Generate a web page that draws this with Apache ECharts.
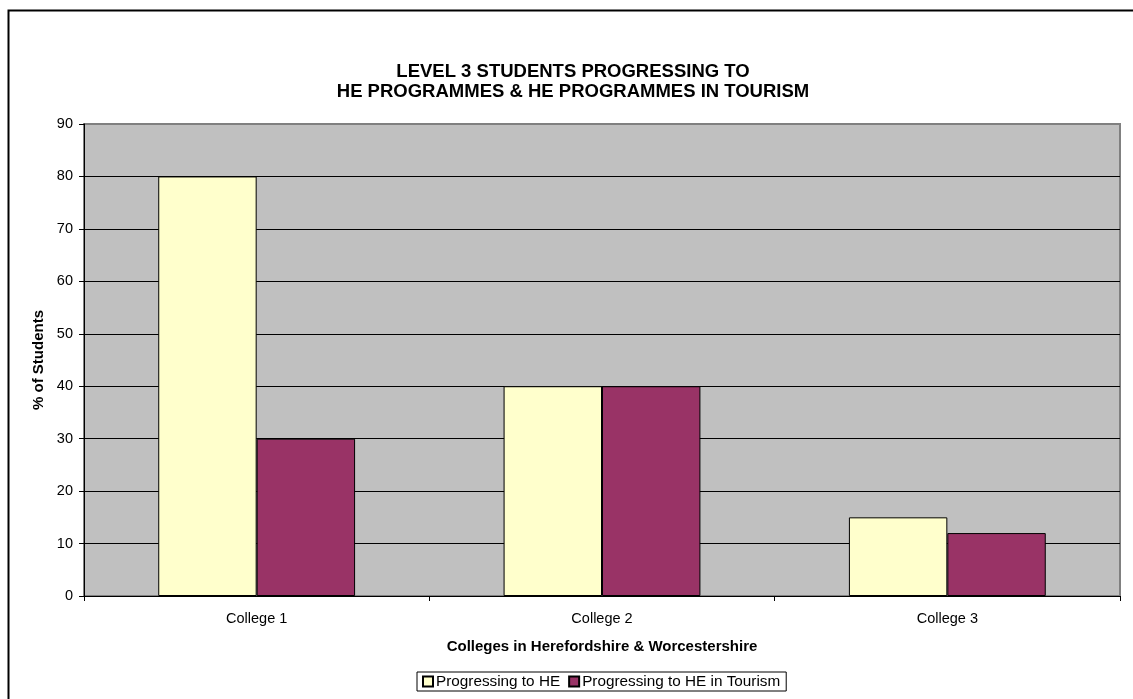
<!DOCTYPE html>
<html>
<head>
<meta charset="utf-8">
<script src="https://cdn.jsdelivr.net/npm/echarts@6/dist/echarts.min.js"></script>
<style>
html,body{margin:0;padding:0;background:#fff;}
#chart{width:1133px;height:699px;}
</style>
</head>
<body>
<div id="chart"></div>
<script>
var categories = ["College 1", "College 2", "College 3"];
var progressingHE = [80, 40, 15];
var progressingTourism = [30, 40, 12];
var seriesNames = ["Progressing to HE", "Progressing to HE in Tourism"];
var yTicks = {min: 0, max: 90, interval: 10};

var font = "Arial, 'Liberation Sans', sans-serif";
var chart = echarts.init(document.getElementById('chart'));
chart.setOption({
  animation: false,
  backgroundColor: '#ffffff',
  graphic: [{
    type: 'rect',
    shape: {x: 8.5, y: 10.5, width: 1200, height: 800},
    style: {fill: 'none', stroke: '#000', lineWidth: 2},
    silent: true, z: -1
  }],
  title: {
    text: 'LEVEL 3 STUDENTS PROGRESSING TO\nHE PROGRAMMES & HE PROGRAMMES IN TOURISM',
    left: 568, top: 57, textAlign: 'center',
    textStyle: {fontFamily: font, fontSize: 18.5, fontWeight: 'bold', color: '#000', lineHeight: 20}
  },
  grid: {
    left: 84, right: 13, top: 124, bottom: 103,
    show: true, backgroundColor: '#C0C0C0', borderColor: '#808080', borderWidth: 2
  },
  legend: {
    bottom: 8, left: 417,
    data: seriesNames,
    itemWidth: 10, itemHeight: 10, itemGap: 8,
    icon: 'rect',
    borderColor: '#000', borderWidth: 1, padding: [2, 6, 2, 5],
    backgroundColor: '#fff',
    textStyle: {fontFamily: font, fontSize: 15.3, color: '#000', padding: [0, 0, 0, -2]}
  },
  xAxis: {
    type: 'category', data: categories,
    name: 'Colleges in Herefordshire & Worcestershire',
    nameLocation: 'middle', nameGap: 43,
    nameTextStyle: {fontFamily: font, fontSize: 15, fontWeight: 'bold', color: '#000'},
    axisLine: {lineStyle: {color: '#000', width: 1}},
    axisTick: {show: true, length: 5, lineStyle: {color: '#000'}},
    axisLabel: {fontFamily: font, fontSize: 14.5, color: '#000', margin: 15}
  },
  yAxis: {
    type: 'value', min: yTicks.min, max: yTicks.max, interval: yTicks.interval,
    name: '% of Students', nameLocation: 'middle', nameGap: 38,
    nameTextStyle: {fontFamily: font, fontSize: 15, fontWeight: 'bold', color: '#000'},
    axisLine: {show: true, lineStyle: {color: '#000', width: 1}},
    axisTick: {show: true, length: 5, lineStyle: {color: '#000'}},
    axisLabel: {fontFamily: font, fontSize: 14.5, color: '#000', margin: 11},
    splitLine: {show: true, lineStyle: {
      color: ['#000', '#000', '#000', '#000', '#000', '#000', '#000', '#000', '#000', '#808080'],
      width: 1}}
  },
  series: [{
    name: seriesNames[0], type: 'bar', data: progressingHE,
    barWidth: '28.5%', barGap: '0%',
    itemStyle: {color: '#FFFFCC', borderColor: '#000', borderWidth: 1}
  }, {
    name: seriesNames[1], type: 'bar', data: progressingTourism,
    barWidth: '28.5%', barGap: '0%',
    itemStyle: {color: '#993366', borderColor: '#000', borderWidth: 1}
  }]
});
</script>
</body>
</html>
